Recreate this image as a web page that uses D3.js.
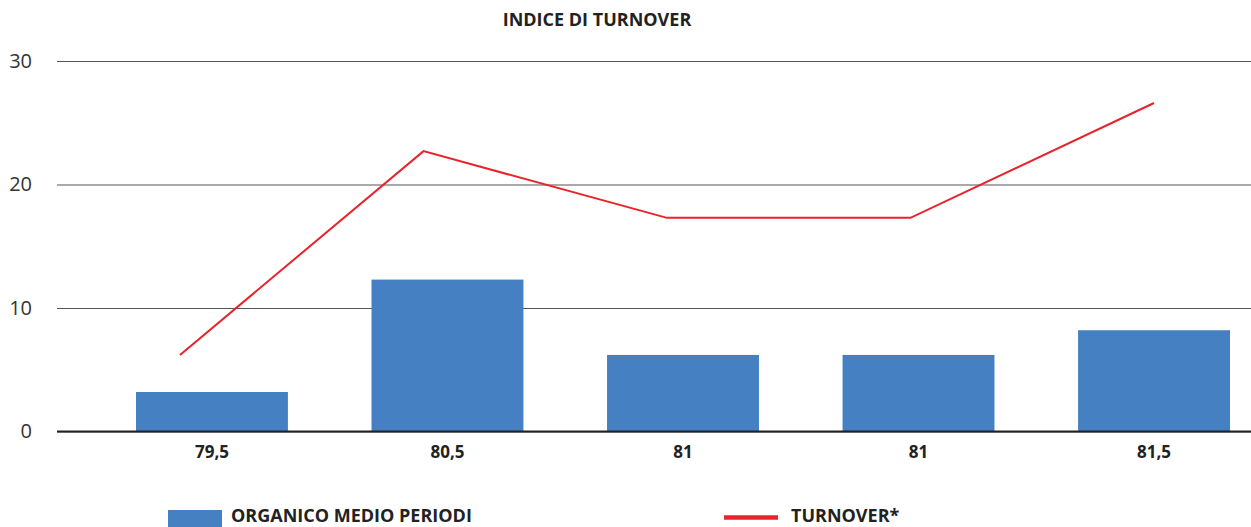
<!DOCTYPE html>
<html>
<head>
<meta charset="utf-8">
<script src="https://cdn.jsdelivr.net/npm/d3@7"></script>
<style>
  body { margin: 0; background: #fff; }
  svg { display: block; font-family: "Open Sans", "Noto Sans", sans-serif; }
</style>
</head>
<body>
<svg width="1251" height="527"></svg>
<script>
// the data
var categories = ["79,5", "80,5", "81", "81", "81,5"];
var organico = [3.2, 12.3, 6.2, 6.2, 8.2];
var turnover = [6.2, 22.7, 17.3, 17.3, 26.6];
var yTicks = [0, 10, 20, 30];
var seriesNames = ["ORGANICO MEDIO PERIODI", "TURNOVER*"];

var svg = d3.select("svg"),
    width = 1251,
    height = 527;

var idx = d3.range(categories.length);

// scales
var x = d3.scaleBand()
    .domain(idx)
    .range([136, 1230])
    .paddingInner(0.355)
    .paddingOuter(0);

// line points sit a bit off the bar centres in the original
var xLine = d3.scalePoint()
    .domain(idx)
    .range([180, 1154]);

var y = d3.scaleLinear()
    .domain([0, 30])
    .range([431.5, 61]);

// title
svg.append("text")
    .attr("x", 597)
    .attr("y", 26)
    .attr("text-anchor", "middle")
    .attr("font-size", 18)
    .attr("font-weight", "bold")
    .attr("fill", "#222")
    .text("INDICE DI TURNOVER");

// gridlines + y labels
var yAxis = d3.axisLeft(y)
    .tickValues(yTicks)
    .tickSize(-(width - 57))
    .tickPadding(25);

svg.append("g")
    .attr("class", "y-axis")
    .attr("transform", "translate(57,0)")
    .call(yAxis)
    .call(function(g) {
      g.select(".domain").remove();
      g.selectAll(".tick line").attr("stroke", "#555").attr("stroke-width", 1.2);
      g.selectAll(".tick text")
          .attr("font-size", 20)
          .attr("fill", "#333")
          .attr("font-family", "'Open Sans', sans-serif");
    });

// bars
svg.append("g")
    .selectAll("rect")
    .data(idx)
    .enter().append("rect")
    .attr("x", function(i) { return x(i); })
    .attr("y", function(i) { return y(organico[i]); })
    .attr("width", x.bandwidth())
    .attr("height", function(i) { return y(0) - y(organico[i]); })
    .attr("fill", "#4480c2");

// zero line
svg.append("line")
    .attr("x1", 57).attr("x2", width)
    .attr("y1", y(0)).attr("y2", y(0))
    .attr("stroke", "#222")
    .attr("stroke-width", 2.2);

// x labels
var xAxis = d3.axisBottom(x)
    .tickFormat(function(i) { return categories[i]; })
    .tickSize(0)
    .tickPadding(14);

svg.append("g")
    .attr("transform", "translate(0," + y(0) + ")")
    .call(xAxis)
    .call(function(g) {
      g.select(".domain").remove();
      g.selectAll(".tick text")
          .attr("font-size", 17)
          .attr("font-weight", "bold")
          .attr("fill", "#222")
          .attr("font-family", "'Open Sans', sans-serif");
    });

// turnover line
var line = d3.line()
    .x(function(i) { return xLine(i); })
    .y(function(i) { return y(turnover[i]); });

svg.append("path")
    .datum(idx)
    .attr("d", line)
    .attr("fill", "none")
    .attr("stroke", "#e8232b")
    .attr("stroke-width", 2);

// legend (kept just inside the bottom edge)
var legend = svg.append("g").attr("class", "legend");

legend.append("rect")
    .attr("x", 168).attr("y", 510)
    .attr("width", 54).attr("height", 17)
    .attr("fill", "#4480c2");

legend.append("text")
    .attr("x", 231).attr("y", 522)
    .attr("font-size", 18)
    .attr("font-weight", "bold")
    .attr("fill", "#222")
    .text(seriesNames[0]);

legend.append("line")
    .attr("x1", 724).attr("x2", 778)
    .attr("y1", 517.5).attr("y2", 517.5)
    .attr("stroke", "#e8232b")
    .attr("stroke-width", 4.5);

legend.append("text")
    .attr("x", 791).attr("y", 522)
    .attr("font-size", 18)
    .attr("font-weight", "bold")
    .attr("fill", "#222")
    .text(seriesNames[1]);
</script>
</body>
</html>
